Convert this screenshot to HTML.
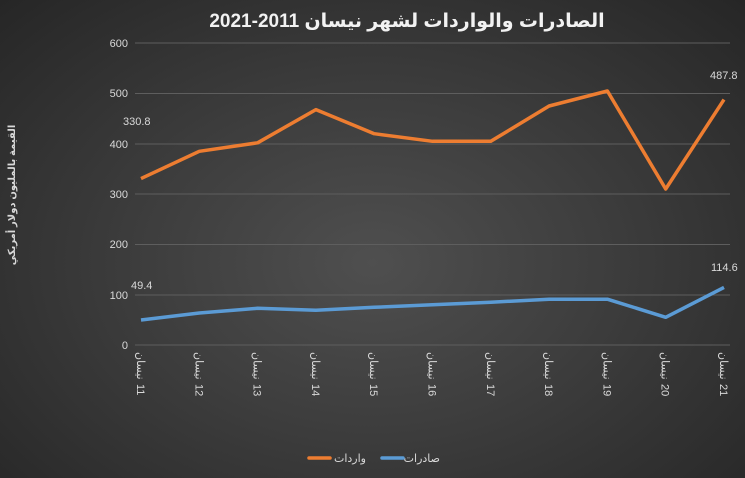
<!DOCTYPE html>
<html><head><meta charset="utf-8"><style>
html,body{margin:0;padding:0;}
body{width:745px;height:478px;overflow:hidden;background:radial-gradient(ellipse at 50% 55%,#4f4f4f 0%,#3d3d3d 45%,#262626 100%);font-family:"Liberation Sans","DejaVu Sans",sans-serif;}
</style></head><body>
<svg width="745" height="478" xmlns="http://www.w3.org/2000/svg" style="position:absolute;left:0;top:0">
<text x="407" y="27" text-anchor="middle" fill="#f2f2f2" font-size="19" font-weight="bold" font-family="Liberation Sans, DejaVu Sans, sans-serif" direction="rtl">الصادرات والواردات لشهر نيسان 2011-2021</text>
<g stroke="#5e5e5e" stroke-width="1">
<line x1="135" x2="730" y1="43" y2="43"/><line x1="135" x2="730" y1="93.5" y2="93.5"/>
<line x1="135" x2="730" y1="144" y2="144"/><line x1="135" x2="730" y1="194" y2="194"/>
<line x1="135" x2="730" y1="244.5" y2="244.5"/><line x1="135" x2="730" y1="295" y2="295"/>
<line x1="135" x2="730" y1="345" y2="345"/>
</g>
<g fill="#d9d9d9" font-size="11" text-anchor="end">
<text x="128" y="47">600</text><text x="128" y="97">500</text><text x="128" y="148">400</text>
<text x="128" y="198">300</text><text x="128" y="248">200</text><text x="128" y="299">100</text>
<text x="128" y="349">0</text>
</g>
<text transform="translate(15,195) rotate(-90)" text-anchor="middle" fill="#d9d9d9" font-size="10" font-weight="bold" font-family="Liberation Sans, DejaVu Sans, sans-serif">القيمة بالمليون دولار أمريكي</text>
<polyline fill="none" stroke="#ed7d31" stroke-width="3.5" stroke-linejoin="round" points="141,178.6 199.3,151.3 257.6,142.8 315.9,109.6 374.2,133.7 432.5,141.3 490.8,141.3 549.1,106 607.4,91 665.7,189 724,99.6"/>
<polyline fill="none" stroke="#5b9bd5" stroke-width="3.5" stroke-linejoin="round" points="141,320 199.3,313 257.6,308.3 315.9,310.3 374.2,307.3 432.5,304.8 490.8,302.2 549.1,299.2 607.4,299.2 665.7,317.3 724,287.4"/>
<g fill="#d9d9d9" font-size="11">
<text x="123" y="125">330.8</text><text x="710" y="79">487.8</text>
<text x="131" y="289">49.4</text><text x="711" y="271">114.6</text>
</g>
<g fill="#d9d9d9" font-size="11" font-family="Liberation Sans, DejaVu Sans, sans-serif">
<g transform="translate(137,352) rotate(90)"><text x="0" y="0">نيسان</text><text x="32" y="0">11</text></g>
<g transform="translate(195.3,352) rotate(90)"><text x="0" y="0">نيسان</text><text x="32" y="0">12</text></g>
<g transform="translate(253.6,352) rotate(90)"><text x="0" y="0">نيسان</text><text x="32" y="0">13</text></g>
<g transform="translate(311.9,352) rotate(90)"><text x="0" y="0">نيسان</text><text x="32" y="0">14</text></g>
<g transform="translate(370.2,352) rotate(90)"><text x="0" y="0">نيسان</text><text x="32" y="0">15</text></g>
<g transform="translate(428.5,352) rotate(90)"><text x="0" y="0">نيسان</text><text x="32" y="0">16</text></g>
<g transform="translate(486.8,352) rotate(90)"><text x="0" y="0">نيسان</text><text x="32" y="0">17</text></g>
<g transform="translate(545.1,352) rotate(90)"><text x="0" y="0">نيسان</text><text x="32" y="0">18</text></g>
<g transform="translate(603.4,352) rotate(90)"><text x="0" y="0">نيسان</text><text x="32" y="0">19</text></g>
<g transform="translate(661.7,352) rotate(90)"><text x="0" y="0">نيسان</text><text x="32" y="0">20</text></g>
<g transform="translate(720,352) rotate(90)"><text x="0" y="0">نيسان</text><text x="32" y="0">21</text></g>
</g>
<line x1="309" x2="330" y1="458" y2="458" stroke="#ed7d31" stroke-width="3.5" stroke-linecap="round"/>
<text x="366" y="462" text-anchor="end" fill="#d9d9d9" font-size="11">واردات</text>
<line x1="382" x2="403" y1="458" y2="458" stroke="#5b9bd5" stroke-width="3.5" stroke-linecap="round"/>
<text x="440" y="462" text-anchor="end" fill="#d9d9d9" font-size="11">صادرات</text>
</svg>
</body></html>
